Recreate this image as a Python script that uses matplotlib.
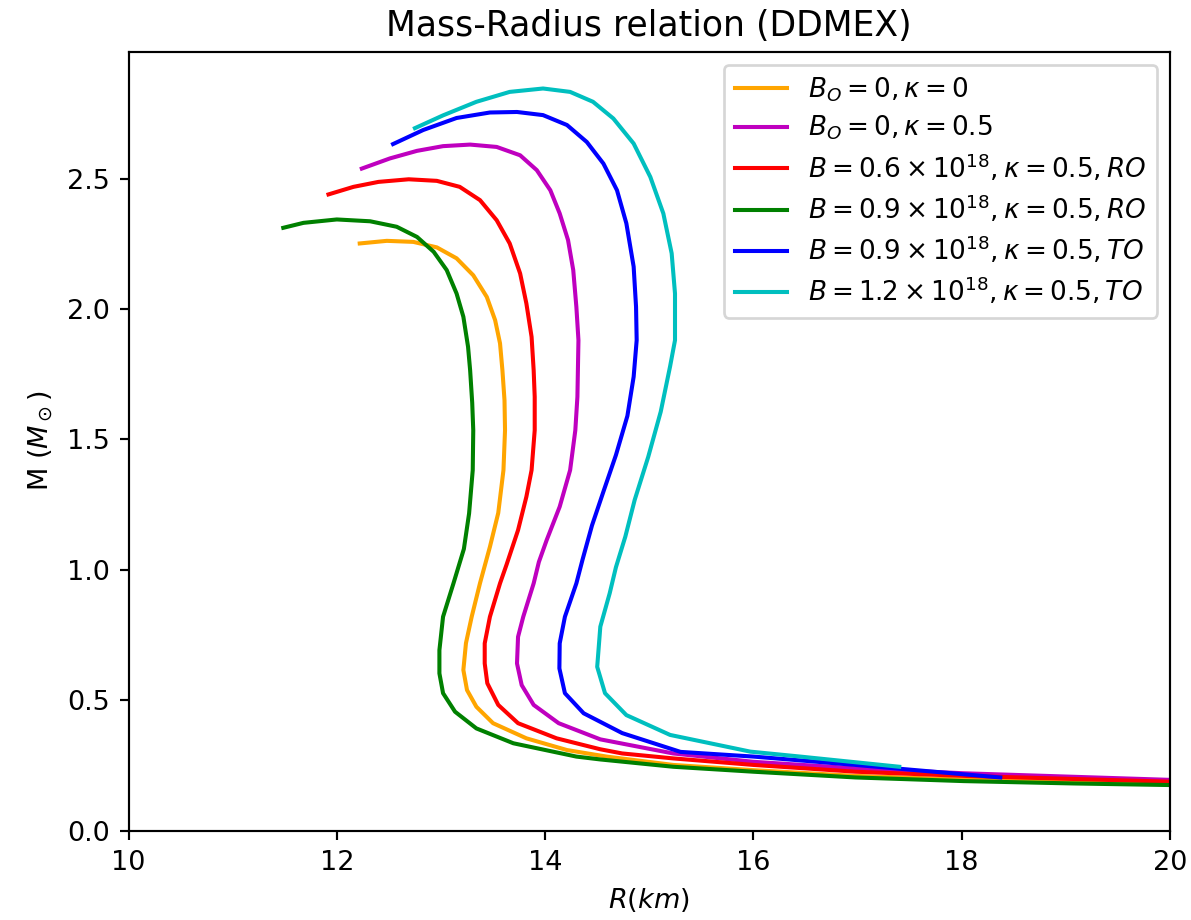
import matplotlib
matplotlib.use("Agg")
import matplotlib.pyplot as plt

# B_O = 0, kappa = 0
r_b0_k0 = [12.22, 12.48, 12.735, 12.96, 13.15, 13.31, 13.44, 13.52, 13.567, 13.59, 13.61,
           13.615, 13.60, 13.55, 13.47, 13.375, 13.295, 13.24, 13.215, 13.25, 13.34,
           13.50, 13.82, 14.21, 14.59, 15.23, 16.0, 16.98, 18.02, 19.07, 20.0, 20.5]
m_b0_k0 = [2.251, 2.261, 2.257, 2.236, 2.194, 2.129, 2.046, 1.957, 1.868, 1.765, 1.65,
           1.535, 1.382, 1.218, 1.088, 0.949, 0.820, 0.719, 0.616, 0.539, 0.475,
           0.412, 0.354, 0.309, 0.284, 0.252, 0.232, 0.210, 0.196, 0.187, 0.180, 0.177]

# B_O = 0, kappa = 0.5
r_b0_k05 = [12.24, 12.51, 12.77, 13.02, 13.28, 13.535, 13.76, 13.92, 14.05, 14.14, 14.22,
            14.27, 14.30, 14.32, 14.31, 14.29, 14.24, 14.14, 14.015, 13.94, 13.89, 13.79,
            13.74, 13.73, 13.775, 13.89, 14.13, 14.53, 15.23, 16.0, 16.98, 18.02, 19.98, 20.5]
m_b0_k05 = [2.538, 2.577, 2.606, 2.624, 2.630, 2.621, 2.589, 2.532, 2.455, 2.366, 2.264,
            2.149, 2.008, 1.880, 1.663, 1.535, 1.382, 1.242, 1.114, 1.03, 0.948, 0.820,
            0.743, 0.641, 0.558, 0.482, 0.412, 0.350, 0.296, 0.264, 0.239, 0.220, 0.195, 0.190]

# B = 0.6e18, kappa = 0.5, RO
r_b06_ro = [11.92, 12.16, 12.40, 12.69, 12.96, 13.18, 13.375, 13.535, 13.66, 13.76, 13.82,
            13.87, 13.89, 13.90, 13.90, 13.87, 13.82, 13.74, 13.63, 13.567, 13.47, 13.42,
            13.42, 13.445, 13.55, 13.74, 14.11, 14.53, 14.74, 15.23, 16.0, 16.98, 18.02,
            19.98, 20.5]
m_b06_ro = [2.439, 2.468, 2.487, 2.497, 2.491, 2.468, 2.417, 2.340, 2.251, 2.136, 2.021,
            1.893, 1.765, 1.663, 1.535, 1.382, 1.280, 1.152, 1.02, 0.948, 0.820, 0.718,
            0.641, 0.565, 0.482, 0.412, 0.354, 0.312, 0.296, 0.277, 0.252, 0.226, 0.210,
            0.188, 0.184]

# B = 0.9e18, kappa = 0.5, RO
r_b09_ro = [11.486, 11.68, 12.0, 12.32, 12.575, 12.77, 12.93, 13.055, 13.15, 13.215, 13.26,
            13.28, 13.30, 13.31, 13.305, 13.27, 13.22, 13.12, 13.02, 12.985, 12.985, 13.02,
            13.135, 13.34, 13.695, 14.30, 14.53, 15.23, 16.0, 16.98, 18.02, 19.07, 19.98, 20.5]
m_b09_ro = [2.311, 2.330, 2.343, 2.336, 2.315, 2.276, 2.219, 2.149, 2.059, 1.970, 1.855,
            1.765, 1.64, 1.535, 1.382, 1.216, 1.08, 0.948, 0.820, 0.692, 0.603, 0.527,
            0.456, 0.392, 0.335, 0.284, 0.273, 0.245, 0.226, 0.204, 0.190, 0.181, 0.175, 0.172]

# B = 0.9e18, kappa = 0.5, TO
r_b09_to = [12.54, 12.83, 13.15, 13.47, 13.73, 13.98, 14.21, 14.40, 14.56, 14.69, 14.78,
            14.85, 14.873, 14.879, 14.85, 14.79, 14.68, 14.56, 14.45, 14.36, 14.30, 14.19,
            14.14, 14.137, 14.19, 14.37, 14.74, 15.30, 16.0, 16.98, 18.37]
m_b09_to = [2.632, 2.686, 2.732, 2.753, 2.755, 2.743, 2.705, 2.640, 2.557, 2.455, 2.328,
            2.162, 2.008, 1.880, 1.74, 1.59, 1.44, 1.30, 1.17, 1.04, 0.948, 0.820,
            0.718, 0.622, 0.527, 0.450, 0.374, 0.302, 0.284, 0.252, 0.204]

# B = 1.2e18, kappa = 0.5, TO
r_b12_to = [12.75, 13.02, 13.34, 13.66, 13.98, 14.24, 14.46, 14.655, 14.85, 15.01, 15.135,
            15.215, 15.247, 15.247, 15.20, 15.11, 14.99, 14.86, 14.77, 14.68, 14.62, 14.53,
            14.50, 14.575, 14.78, 15.20, 15.97, 16.45, 17.40]
m_b12_to = [2.693, 2.742, 2.794, 2.832, 2.845, 2.832, 2.794, 2.730, 2.634, 2.506, 2.366,
            2.213, 2.059, 1.880, 1.78, 1.606, 1.433, 1.268, 1.127, 1.010, 0.910, 0.782,
            0.628, 0.527, 0.443, 0.367, 0.303, 0.284, 0.245]

fig = plt.figure(figsize=(1191 / 195, 920 / 195), dpi=195)
ax = fig.add_subplot(111)
plt.subplots_adjust(left=0.1079, right=0.9824, bottom=0.0971, top=0.9435)

ax.plot(r_b0_k0, m_b0_k0, color="orange", label=r"$B_O=0, \kappa=0$")
ax.plot(r_b0_k05, m_b0_k05, color="m", label=r"$B_O=0, \kappa=0.5$")
ax.plot(r_b06_ro, m_b06_ro, color="r", label=r"$B=0.6\times10^{18}, \kappa=0.5, RO$")
ax.plot(r_b09_ro, m_b09_ro, color="g", label=r"$B=0.9\times10^{18}, \kappa=0.5, RO$")
ax.plot(r_b09_to, m_b09_to, color="b", label=r"$B=0.9\times10^{18}, \kappa=0.5, TO$")
ax.plot(r_b12_to, m_b12_to, color="c", label=r"$B=1.2\times10^{18}, \kappa=0.5, TO$")

ax.set_xlim(10, 20)
ax.set_ylim(0, 2.985)
ax.set_xlabel(r"$R(km)$")
ax.set_ylabel(r"M ($M_\odot$)")
ax.set_title("Mass-Radius relation (DDMEX)", fontsize=12.8)
ax.legend(loc="upper right", fontsize=9.7, labelspacing=0.37)

fig.savefig("out.png", dpi=195)
